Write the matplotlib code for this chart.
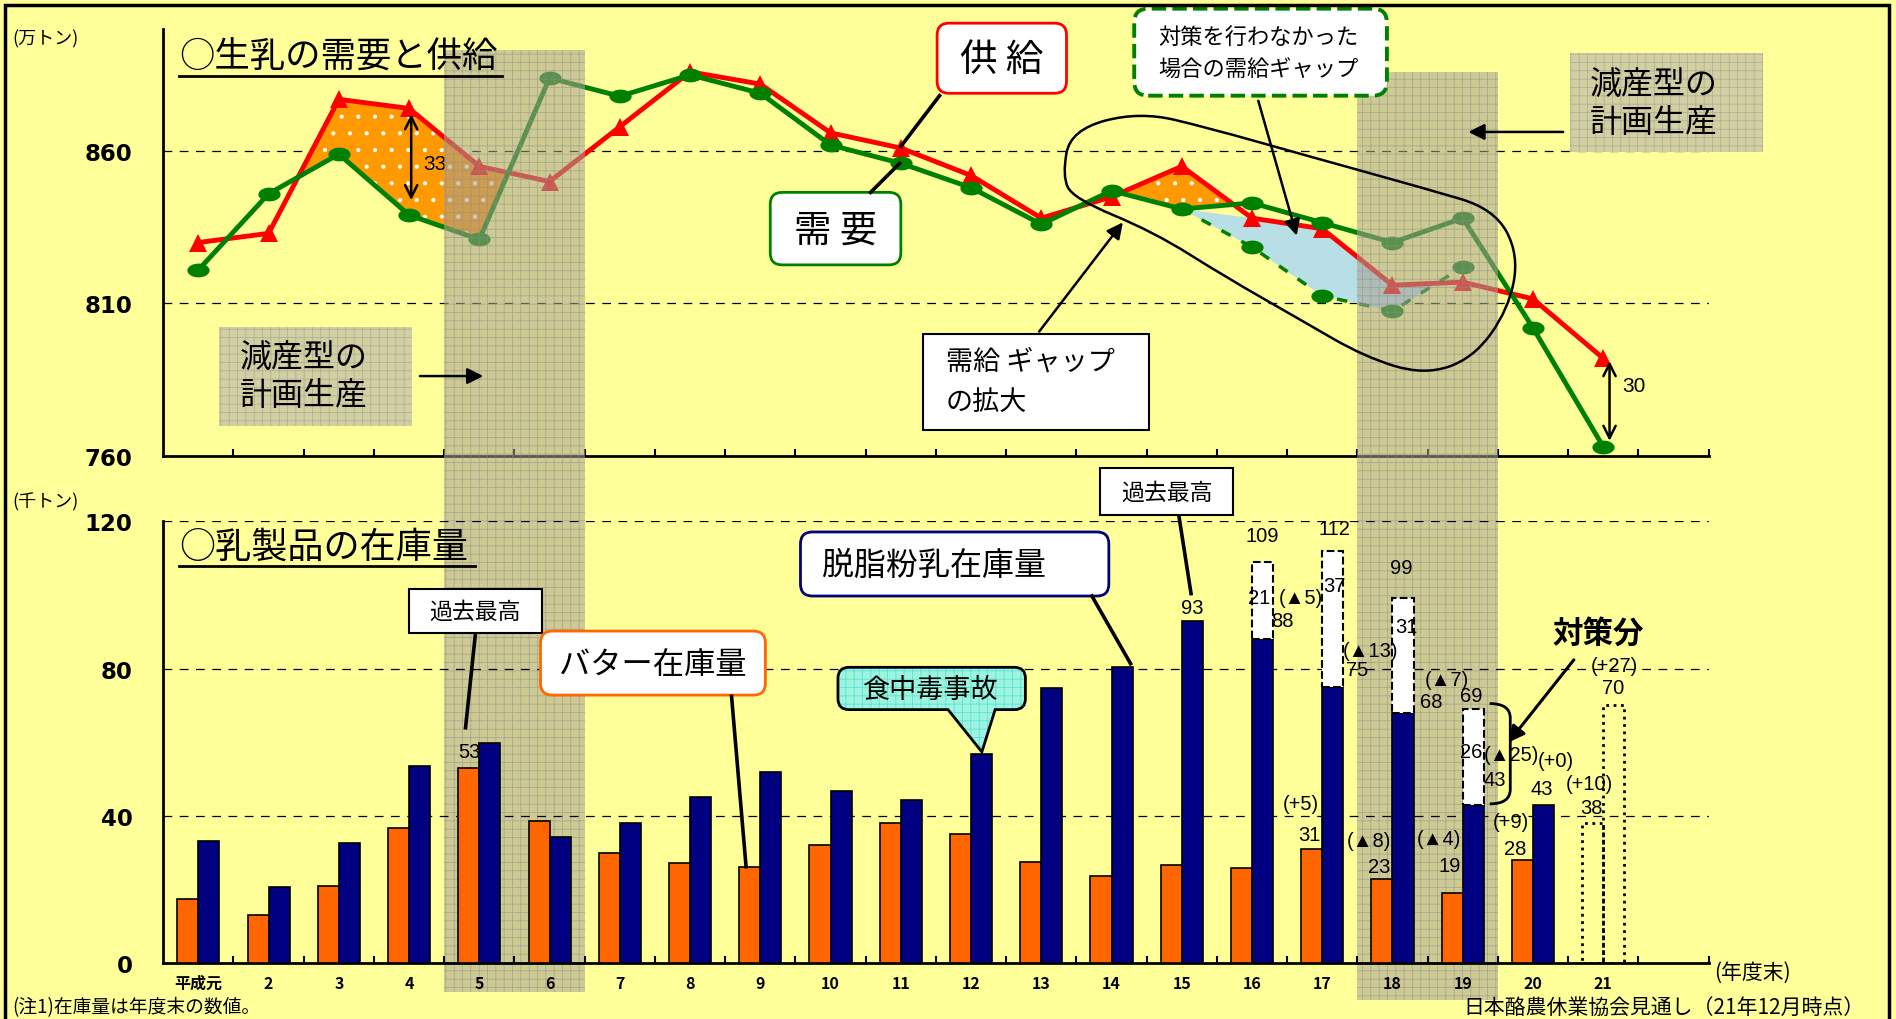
import numpy as np
import matplotlib.pyplot as plt
import matplotlib.transforms as mtransforms
from matplotlib.patches import FancyBboxPatch, Rectangle, FancyArrowPatch, PathPatch
from matplotlib.path import Path
from matplotlib.lines import Line2D

plt.rcParams['font.family'] = ['Noto Sans CJK JP', 'DejaVu Sans']
plt.rcParams['hatch.linewidth'] = 0.6

nan = np.nan

# 生乳の需要と供給 (万トン), 平成元~21年度
years = ['平成元'] + [str(n) for n in range(2, 22)]
supply = [830, 833, 877, 874, 855, 850, 868, 886, 882, 866, 861, 852, 838, 845, 855,
          838, 834.5, 816, 817, 811.5, 792]
demand = [821, 846, 859, 839, 831, 884, 878, 885, 879, 862, 856, 848, 836, 847, 841,
          843, 836.5, 830, 838, 802, 763]
demand_no_measure = [nan] * 14 + [841, 828.5, 812.5, 807.5, 822, nan, nan]

# 乳製品の在庫量 (千トン), 平成元~20年度末 + 21年度見通し
butter = [17.5, 13, 21, 36.7, 53, 38.6, 30, 27.2, 26.1, 32, 38.2, 35.1, 27.6, 23.8, 26.6,
          26, 31, 23, 19, 28]
smp = [33.2, 20.6, 32.7, 53.5, 59.9, 34.3, 38, 45.1, 51.8, 46.9, 44.4, 56.8, 74.8, 80.5, 93,
       88, 75, 68, 43, 43]
butter_21 = 38
smp_21 = 70
measure_years = [16, 17, 18, 19]
measure = [21, 37, 31, 26]

YELLOW = '#FFFF99'
RED = '#FF0000'
GREEN = '#008000'
ORANGE = '#FF6600'
NAVY = '#000080'
NUMFONT = ['Liberation Sans Narrow', 'Liberation Sans', 'DejaVu Sans']

fig = plt.figure(figsize=(18.96, 10.2), dpi=100, facecolor=YELLOW)
T = fig.dpi_scale_trans


def P(x, y):
    # layout measured on a 1568x844 copy of the original -> inches
    return (x * 1896 / 1568 / 100, (844 - y) * 1020 / 844 / 100)


def frac(x0, y0, x1, y1):
    return [x0 / 1568, 1 - y1 / 844, (x1 - x0) / 1568, (y1 - y0) / 844]


def ftext(x, y, s, size, ha='left', va='center', **kw):
    fig.text(*P(x, y), s, transform=T, fontsize=size, ha=ha, va=va, zorder=7, **kw)


def fbox(x0, y0, x1, y1, ec='black', fc='white', lw=1.5, ls='-', rnd=0.0, hatch=None):
    a, b = P(x0, y1)
    c, d = P(x1, y0)
    style = 'round,pad=0,rounding_size=%g' % rnd if rnd else 'square,pad=0'
    fig.add_artist(FancyBboxPatch((a, b), c - a, d - b, boxstyle=style, transform=T,
                                  fc=fc, ec=ec, lw=lw, ls=ls, hatch=hatch, zorder=6))


def fline(x0, y0, x1, y1, lw=2.6):
    (a, b), (c, d) = P(x0, y0), P(x1, y1)
    fig.add_artist(Line2D([a, c], [b, d], transform=T, lw=lw, color='black', zorder=6))


def farrow(x0, y0, x1, y1, lw=1.8):
    fig.add_artist(FancyArrowPatch(P(x0, y0), P(x1, y1), transform=T, arrowstyle='-|>',
                                   mutation_scale=24, lw=lw, color='black', zorder=6))


ax1 = fig.add_axes(frac(135, 25, 1413, 378), facecolor='none', zorder=0)
ax2 = fig.add_axes(frac(135, 432, 1413, 798), facecolor='none', zorder=2)

for ax in (ax1, ax2):
    ax.set_xlim(-0.5, 21.5)
    for s in ['top', 'right']:
        ax.spines[s].set_visible(False)
    for s in ['left', 'bottom']:
        ax.spines[s].set_linewidth(2)
    ax.set_xticks(np.arange(0.5, 21.6, 1), minor=True)
    ax.tick_params(axis='x', which='minor', direction='in', length=5, width=1.5)
    ax.tick_params(axis='x', which='major', length=0)
    ax.tick_params(axis='y', length=0, pad=22)

xs = np.arange(21)

# ---------------- top: supply / demand ----------------
ax1.set_ylim(760, 900)
ax1.set_yticks([760, 810, 860], ['760', '810', '860'], fontsize=16.5, fontweight='bold',
               family='DejaVu Sans')
ax1.set_xticks(xs, [''] * 21)
for v in (810, 860):
    ax1.axhline(v, color='black', lw=0.9, ls=(0, (7, 6)), zorder=1)

sup = np.array(supply)
dem = np.array(demand)
dnm = np.array(demand_no_measure)

mask = (sup >= dem) & (((xs >= 1) & (xs <= 5)) | ((xs >= 13) & (xs <= 15)))
ax1.fill_between(xs, sup, dem, where=mask, interpolate=True, fc='#FF9900', ec='white',
                 hatch='.', lw=0, zorder=2)
top = np.minimum(sup, dem)[14:19]
low = dnm[14:19]
ax1.fill_between(xs[14:19], top, low, where=top >= low, interpolate=True, fc='#B8DFE6',
                 lw=0, zorder=2)

t = np.linspace(0, 2 * np.pi, 48)
ell = Path(np.column_stack([np.cos(t), 0.62 * np.sin(t)]))
ax1.plot(xs, supply, color=RED, lw=3.5, marker='^', ms=13, mew=0, zorder=3)
ax1.plot(xs, demand_no_measure, color=GREEN, lw=2.5, ls=(0, (3, 3.5)), marker=ell, ms=16,
         mew=0, markevery=[15, 16, 17, 18], zorder=3)
ax1.plot(xs, demand, color=GREEN, lw=3.5, marker=ell, ms=16, mew=0, zorder=4)

ax1.annotate('', xy=(3.03, 843), xytext=(3.03, 873),
             arrowprops=dict(arrowstyle='<->', lw=1.8, color='black', mutation_scale=22))
ax1.text(3.2, 856, '33', fontsize=15, va='center', family=NUMFONT)
ax1.annotate('', xy=(20.09, 764), xytext=(20.09, 792),
             arrowprops=dict(arrowstyle='<->', lw=1.8, color='black', mutation_scale=22))
ax1.text(20.27, 783, '30', fontsize=15, va='center', family=NUMFONT)

# freehand loop around the gap area (data coords of the top chart)
loop = np.array([(12.30, 852), (12.42, 867), (13.4, 873), (14.4, 867.5), (15.7, 859),
                 (17.5, 847.5), (18.45, 841), (18.8, 826), (18.65, 808), (18.15, 792),
                 (17.45, 786.5), (16.6, 792.5), (15.7, 804.5), (14.6, 819), (13.6, 833.5),
                 (12.45, 844.5)])
mids = (loop + np.roll(loop, -1, axis=0)) / 2
verts = [mids[-1]]
codes = [Path.MOVETO]
for p, m in zip(loop, mids):
    verts += [p, m]
    codes += [Path.CURVE3, Path.CURVE3]
fig.add_artist(PathPatch(Path(verts, codes), transform=ax1.transData, fc='none',
                         ec='black', lw=1.8, zorder=5))

# ---------------- bottom: stocks ----------------
ax2.set_ylim(0, 120)
ax2.set_yticks([0, 40, 80, 120], ['0', '40', '80', '120'], fontsize=16.5, fontweight='bold',
               family='DejaVu Sans')
ax2.set_xticks(xs, years, fontsize=11.5, fontweight='bold')
ax2.tick_params(axis='x', which='major', pad=8)
ax2.yaxis.grid(True, color='black', lw=0.9, ls=(0, (7, 6)))
ax2.set_axisbelow(True)

xb = np.arange(20)
w = 0.3
ax2.bar(xb - w / 2, butter, w, color=ORANGE, ec='black', lw=1.2, zorder=3)
ax2.bar(xb + w / 2, smp, w, color=NAVY, ec='black', lw=1.2, zorder=3)
mi = np.array(measure_years) - 1
smp_a = np.array(smp)
ax2.bar(mi + w / 2, measure, w, bottom=smp_a[mi], color='white', ec='black', lw=1.5,
        ls='--', zorder=3)
ax2.bar(20 - w / 2, butter_21, w, fill=False, ec='black', lw=2, ls=':', zorder=3)
ax2.bar(20 + w / 2, smp_21, w, fill=False, ec='black', lw=2, ls=':', zorder=3)


def chg(v):
    return '(▲%d)' % round(-v) if v < 0 else '(+%d)' % round(v)


def btxt(x, y, s):
    ax2.text(x, y, s, fontsize=14.5, ha='center', va='center', family=NUMFONT, zorder=5)


smp_all = smp + [smp_21]
butter_all = butter + [butter_21]
btxt(3.86, 57.4, '%d' % butter[4])
btxt(14.15, 96.6, '%d' % smp[14])

total_pos = [(15.15, 116), (16.18, 118), (17.12, 107.5), (18.12, 72.8)]
inner_pos = [(15.1, 99.3), (16.18, 102.6), (17.2, 91.5), (18.12, 57.4)]
for k, i in enumerate(mi):
    btxt(*total_pos[k], '%d' % (smp[i] + measure[k]))
    btxt(*inner_pos[k], '%d' % measure[k])

smp_val_pos = [(15.43, 93.1), (16.5, 79.7), (17.55, 71.1), (18.45, 49.8), (19.12, 47.5),
               (20.14, 74.8)]
smp_chg_pos = [(15.7, 99.3), (16.68, 84.8), (17.77, 77), (18.7, 56.7), (19.33, 55.1),
               (20.16, 80.7)]
for k, i in enumerate(range(15, 21)):
    btxt(*smp_val_pos[k], '%d' % smp_all[i])
    btxt(*smp_chg_pos[k], chg(smp_all[i] - smp_all[i - 1]))

butter_val_pos = [(15.81, 35.1), (16.81, 26.2), (17.81, 26.6), (18.74, 31.1), (19.83, 42.3)]
butter_chg_pos = [(15.7, 43.3), (16.66, 33.4), (17.66, 33.8), (18.68, 38.4), (19.81, 48.9)]
for k, i in enumerate(range(16, 21)):
    btxt(*butter_val_pos[k], '%d' % butter_all[i])
    btxt(*butter_chg_pos[k], chg(butter_all[i] - butter_all[i - 1]))

# ---------------- shaded bands (減産型の計画生産) ----------------
blend = mtransforms.blended_transform_factory(ax2.transData, fig.transFigure)
for (x0, x1), (ytop, ybot) in zip([(3.5, 5.5), (16.5, 18.5)], [(42, 822), (60, 828)]):
    fig.add_artist(Rectangle((x0, 1 - ybot / 844), x1 - x0, (ybot - ytop) / 844,
                             transform=blend, fc='#a6a090', ec='#8c8c8c', hatch='++',
                             lw=0, alpha=0.55, zorder=1))

# ---------------- texts, boxes, pointers ----------------
fig.add_artist(Rectangle(P(4, 860), P(1562, 0)[0] - P(4, 0)[0], P(0, 5)[1] - P(0, 860)[1],
                         transform=T, fill=False, ec='black', lw=2.5, zorder=8))

ftext(148, 48, '○生乳の需要と供給', 25.5)
fline(148, 64, 415, 64, lw=2)
ftext(148, 453, '○乳製品の在庫量', 26)
fline(148, 469, 393, 469, lw=2)
ftext(10, 33, '(万トン)', 13)
ftext(10, 416, '(千トン)', 13)
ftext(1418, 805, '(年度末)', 15)
ftext(10, 834, '(注1)在庫量は年度末の数値。', 13.5)
ftext(1542, 834, '日本酪農休業協会見通し（21年12月時点）', 15, ha='right')

fbox(775, 20, 882, 78, ec=RED, lw=2, rnd=0.12)
ftext(828, 50, '供 給', 27, ha='center')
fbox(637, 160, 745, 220, ec=GREEN, lw=2, rnd=0.12)
ftext(691, 191, '需 要', 27, ha='center')
fline(777, 80, 745, 122)
fline(720, 160, 744, 136)

fbox(938, 8, 1147, 80, ec=GREEN, lw=2.8, ls='--', rnd=0.14)
ftext(958, 32, '対策を行わなかった', 16)
ftext(958, 58, '場合の需給ギャップ', 16)
farrow(1040, 82, 1073, 198)

fbox(763, 277, 950, 357, lw=1.5)
ftext(782, 300, '需給 ギャップ', 19.5)
ftext(782, 333, 'の拡大', 19.5)
farrow(858, 277, 930, 183)

for bx, by in [(181, 271), (1298, 45)]:
    fbox(bx, by, bx + 160, by + 82, ec='#b2b09c', fc='#d2cfa0', lw=0, hatch='++')
    ftext(bx + 17, by + 26, '減産型の', 23)
    ftext(bx + 17, by + 57, '計画生産', 23)
farrow(345, 312, 402, 312)
farrow(1295, 110, 1212, 110)

fbox(338, 488, 448, 525)
ftext(393, 507, '過去最高', 16.5, ha='center')
fline(393, 527, 385, 603)
fbox(910, 388, 1020, 427)
ftext(965, 408, '過去最高', 16.5, ha='center')
fline(975, 428, 985, 492)

fbox(447, 523, 633, 576, ec=ORANGE, lw=2, rnd=0.12)
ftext(540, 550, 'バター在庫量', 22.5, ha='center')
fline(605, 577, 617, 718)
fbox(662, 441, 917, 494, ec=NAVY, lw=2, rnd=0.12)
ftext(680, 468, '脱脂粉乳在庫量', 23)
fline(903, 494, 935, 550)

# speech-bubble callout
x0, y0, x1, y1, r = 693, 553, 848, 588, 9
M, L, C = Path.MOVETO, Path.LINETO, Path.CURVE3
pts = [(x0 + r, y0), (x1 - r, y0), (x1, y0), (x1, y0 + r), (x1, y1 - r), (x1, y1),
       (x1 - r, y1), (823, y1), (812, 623), (784, y1), (x0 + r, y1), (x0, y1), (x0, y1 - r),
       (x0, y0 + r), (x0, y0), (x0 + r, y0), (x0 + r, y0)]
cds = [M, L, C, C, L, C, C, L, L, L, L, C, C, L, C, C, Path.CLOSEPOLY]
bubble = Path([P(*p) for p in pts], cds)
fig.add_artist(PathPatch(bubble, transform=T, fc='#9cf5dc', ec='#5fdede', hatch='++', lw=0,
                         zorder=6))
fig.add_artist(PathPatch(bubble, transform=T, fc='none', ec='black', lw=2, zorder=6))
ftext(770, 571, '食中毒事故', 19.5, ha='center')

# 対策分 with brace
brace = Path([P(*p) for p in [(1232, 583), (1249, 583), (1249, 595), (1249, 654),
                              (1249, 666), (1232, 666)]], [M, C, C, L, C, C])
fig.add_artist(PathPatch(brace, transform=T, fc='none', ec='black', lw=2, zorder=6))
ftext(1322, 524, '対策分', 22, ha='center', fontweight='bold')
farrow(1303, 545, 1246, 617, lw=2.2)

fig.savefig('out.png', dpi=100, facecolor=YELLOW)
